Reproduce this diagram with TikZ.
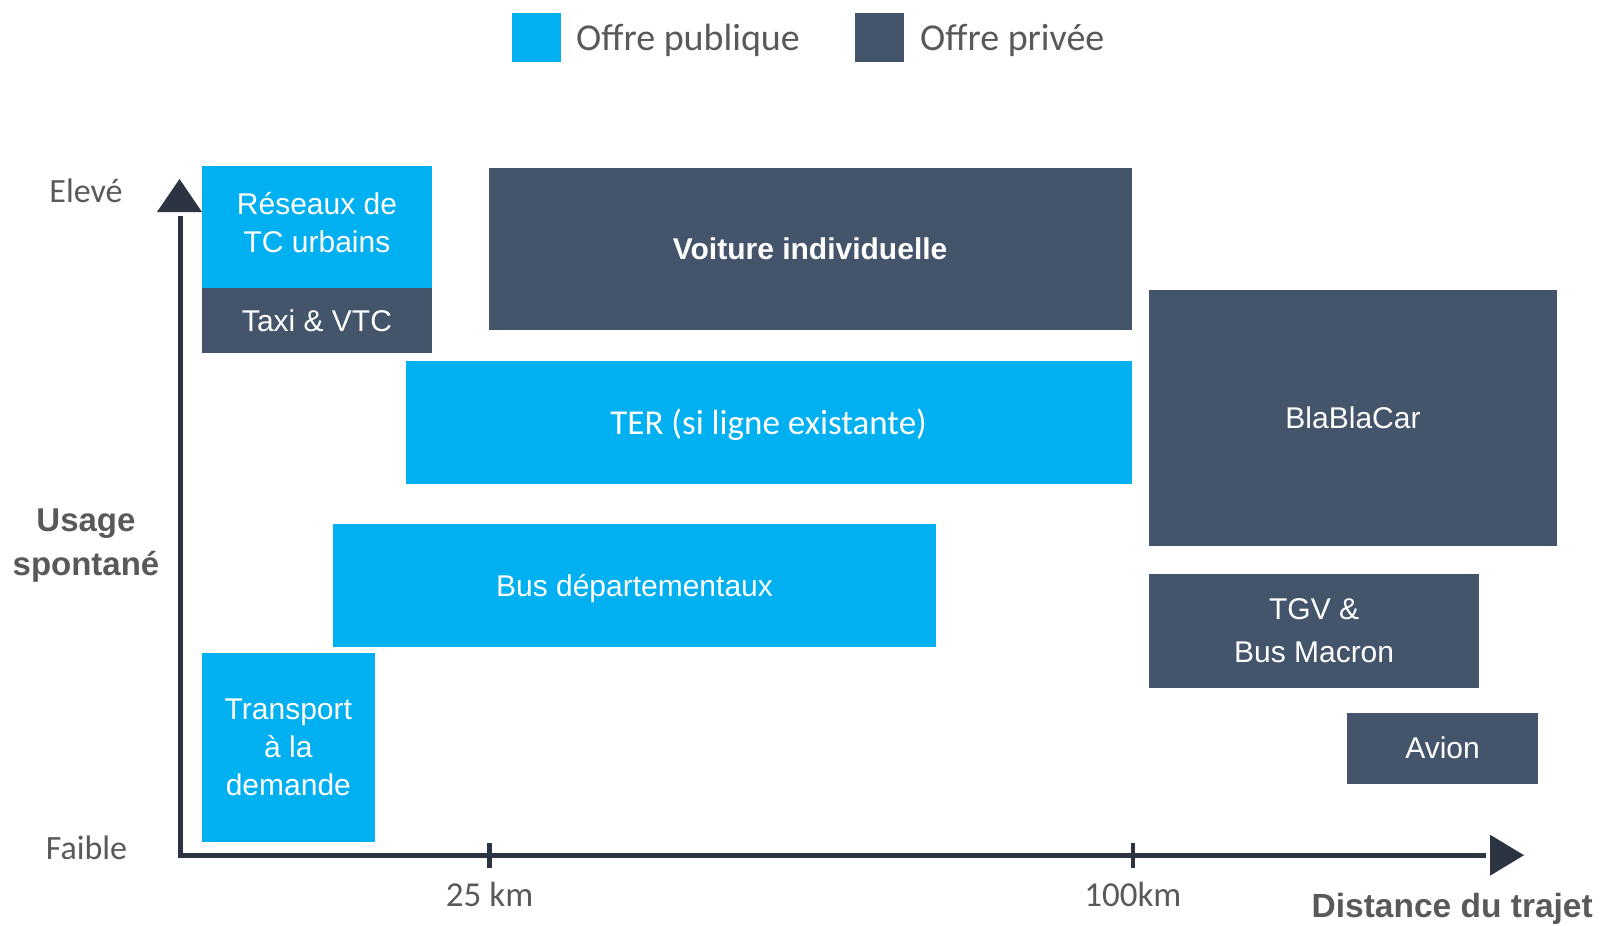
\documentclass[tikz,border=0pt]{standalone}
\usepackage{fontspec}
\setmainfont{Liberation Sans}
\newfontfamily\condfont{Carlito}
\definecolor{pub}{HTML}{00B0F0}
\definecolor{priv}{HTML}{44546A}
\definecolor{axisc}{HTML}{2B3440}
\definecolor{txtg}{HTML}{595959}
\begin{document}
\begin{tikzpicture}[x=1pt,y=-1pt,
  box/.style={inner sep=0pt, outer sep=0pt, text=white, align=center,
    font=\fontsize{30}{38}\selectfont},
  pubbox/.style={box, fill=pub},
  privbox/.style={box, fill=priv},
  boxtext/.style={inner sep=0pt, text=white, align=center, font=\fontsize{30}{38}\selectfont},
  lbl/.style={text=txtg, inner sep=0pt},
  axisline/.style={draw=axisc, line width=5pt, line join=miter},
  tickline/.style={draw=axisc, line width=4.5pt}]
\useasboundingbox (0,0) rectangle (1606,926);

% legend
\node[pubbox, minimum width=49, minimum height=49] (legpub) at (536,37) {};
\node[lbl, anchor=west, font=\condfont\fontsize{38}{40}\selectfont] (legpubt) at (576,40.5) {Offre publique};
\node[privbox, minimum width=49, minimum height=49] (legpriv) at (879.5,37) {};
\node[lbl, anchor=west, font=\condfont\fontsize{38}{40}\selectfont] (legprivt) at (920,40.5) {Offre privée};

% axes
\coordinate (origin) at (180.3,855.2);
\coordinate (ytop) at (180.3,216);
\coordinate (xend) at (1486,855.2);
\draw[axisline] (ytop) -- (origin) -- (xend);
\fill[axisc] (179.5,179) -- (202,212) -- (157,212) -- cycle;
\fill[axisc] (1524,855.2) -- (1490,834.7) -- (1490,875.7) -- cycle;
\coordinate (t25a) at (489.6,843); \coordinate (t25b) at (489.6,867.5);
\coordinate (t100a) at (1132.8,843); \coordinate (t100b) at (1132.8,867.5);
\draw[tickline] (t25a) -- (t25b);
\draw[tickline] (t100a) -- (t100b);

% axis labels
\node[lbl, font=\condfont\fontsize{34}{38}\selectfont] (elev) at (86,191) {Elevé};
\node[lbl, font=\condfont\fontsize{34}{38}\selectfont] (faib) at (86.5,848) {Faible};
\node[lbl, align=center, font=\bfseries\fontsize{33}{44}\selectfont] (usage) at (86,546) {Usage\\spontané};
\node[lbl, font=\condfont\fontsize{35}{38}\selectfont] (k25) at (489.6,894) {25 km};
\node[lbl, font=\condfont\fontsize{35}{38}\selectfont] (k100) at (1132.8,894) {100km};
\node[lbl, anchor=east, font=\bfseries\fontsize{33.5}{36}\selectfont] (dist) at (1593,908.5) {Distance du trajet};

% boxes
\node[pubbox, minimum width=230.4, minimum height=121.9] (reseaux) at (317,226.85) {};
\node[boxtext] (reseauxt) at ([yshift=4pt]reseaux.center) {Réseaux de\\TC urbains};
\node[privbox, minimum width=230.4, minimum height=65.5] (taxi) at (317,320.55) {Taxi \& VTC};
\node[privbox, minimum width=643.2, minimum height=161.8, font=\bfseries\fontsize{30}{36}\selectfont] (voiture) at (810.1,248.9) {Voiture individuelle};
\node[pubbox, minimum width=726.1, minimum height=123.9] (ter) at (768.65,422.45) {};
\node[boxtext, font=\condfont\fontsize{35}{38}\selectfont] (tert) at ([yshift=-2pt]ter.center) {TER (si ligne existante)};
\node[privbox, minimum width=407.6, minimum height=256.1] (blabla) at (1353,417.85) {BlaBlaCar};
\node[pubbox, minimum width=603.2, minimum height=122.9] (bus) at (634.5,585.85) {};
\node[boxtext] (bust) at ([yshift=-3pt]bus.center) {Bus départementaux};
\node[privbox, minimum width=329.8, minimum height=114.7, font=\fontsize{30}{43}\selectfont] (tgv) at (1314.1,630.95) {TGV \&\\Bus Macron};
\node[privbox, minimum width=191.5, minimum height=70.7] (avion) at (1442.55,748.15) {Avion};
\node[pubbox, minimum width=173.1, minimum height=188.5] (tad) at (288.35,747.65) {Transport\\à la\\demande};
\end{tikzpicture}
\end{document}
